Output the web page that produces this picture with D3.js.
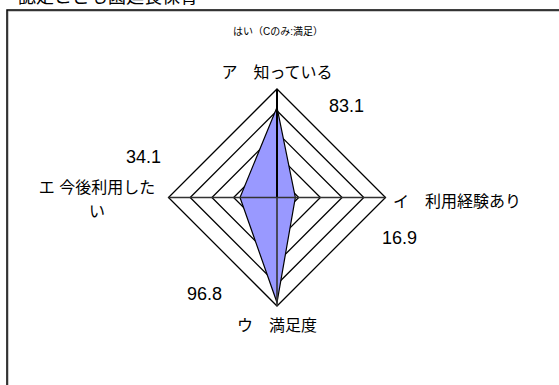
<!DOCTYPE html>
<html>
<head>
<meta charset="utf-8">
<script src="https://cdn.jsdelivr.net/npm/d3@7"></script>
<style>
  body { margin: 0; background: #fff; }
  text { font-family: "Liberation Sans", "Noto Sans CJK JP", sans-serif; fill: #000; }
</style>
</head>
<body>
<svg id="radar"></svg>
<script>
var categories = ["ア　知っている", "イ　利用経験あり", "ウ　満足度", "エ 今後利用した|い"];
var values = [83.1, 16.9, 96.8, 34.1];
var ringTicks = [20, 40, 60, 80, 100];
var title = "認定こども園延長保育";
var subtitle = "はい（Cのみ:満足）";

var width = 559, height = 385;
var cx = 277, cy = 197.5, R = 108.5;

var svg = d3.select("#radar")
  .attr("width", width)
  .attr("height", height);

var r = d3.scaleLinear().domain([0, 100]).range([0, R]);
var angle = d3.scaleLinear().domain([0, categories.length]).range([0, 2 * Math.PI]);

function pt(i, v) {
  var a = angle(i);
  return [cx + Math.sin(a) * r(v), cy - Math.cos(a) * r(v)];
}

// title, mostly cut off above the frame
svg.append("text")
  .attr("x", 18).attr("y", 3)
  .style("font-size", "18px")
  .text(title);

// frame (only top + left edges fall inside the picture)
svg.append("path")
  .attr("d", "M7,400V10H570")
  .attr("fill", "none")
  .attr("stroke", "#999")
  .attr("stroke-width", 1)
  .attr("transform", "translate(1,1)");
svg.append("path")
  .attr("d", "M7,400V10H570")
  .attr("fill", "none")
  .attr("stroke", "#000")
  .attr("stroke-width", 1.5);

svg.append("text")
  .attr("x", 278).attr("y", 35)
  .attr("text-anchor", "middle")
  .style("font-size", "10px")
  .text(subtitle);

var line = d3.line().curve(d3.curveLinearClosed);

// grid rings
svg.append("g").selectAll("path")
  .data(ringTicks)
  .join("path")
  .attr("d", function(t) { return line(categories.map(function(c, i) { return pt(i, t); })); })
  .attr("fill", "none")
  .attr("stroke", "#000")
  .attr("stroke-width", 1.3);

// data polygon
svg.append("path")
  .attr("d", line(values.map(function(v, i) { return pt(i, v); })))
  .attr("fill", "#9999ff")
  .attr("stroke", "#000")
  .attr("stroke-width", 1.2);

// axes
svg.append("g").selectAll("line")
  .data(categories)
  .join("line")
  .attr("x1", cx).attr("y1", cy)
  .attr("x2", function(d, i) { return pt(i, 100)[0]; })
  .attr("y2", function(d, i) { return pt(i, 100)[1]; })
  .attr("stroke", function(d, i) { return i === 0 ? "#000" : "#333"; })
  .attr("stroke-width", function(d, i) { return i === 0 ? 2 : 1.6; });

// category labels
var catLayout = [
  { dx: 0, dy: -119.5, anchor: "middle" },
  { dx: 116, dy: 9.5, anchor: "start" },
  { dx: 0, dy: 133.5, anchor: "middle" },
  { dx: -180, dy: -4.5, anchor: "middle" }
];
svg.append("g").selectAll("text")
  .data(categories)
  .join("text")
  .attr("x", function(d, i) { return cx + catLayout[i].dx; })
  .attr("y", function(d, i) { return cy + catLayout[i].dy; })
  .attr("text-anchor", function(d, i) { return catLayout[i].anchor; })
  .style("font-size", "16px")
  .each(function(d, i) {
    var t = d3.select(this);
    d.split("|").forEach(function(p, k) {
      t.append("tspan")
        .attr("x", cx + catLayout[i].dx)
        .attr("dy", k === 0 ? 0 : 24)
        .text(p);
    });
  });

// value labels
var valLayout = [
  { dx: 52, dy: -85.5 },
  { dx: 105, dy: 46.5 },
  { dx: -90, dy: 102.5 },
  { dx: -151, dy: -34.5 }
];
svg.append("g").selectAll("text")
  .data(values)
  .join("text")
  .attr("x", function(d, i) { return cx + valLayout[i].dx; })
  .attr("y", function(d, i) { return cy + valLayout[i].dy; })
  .style("font-size", "18px")
  .text(function(d) { return d3.format(".1f")(d); });
</script>
</body>
</html>
